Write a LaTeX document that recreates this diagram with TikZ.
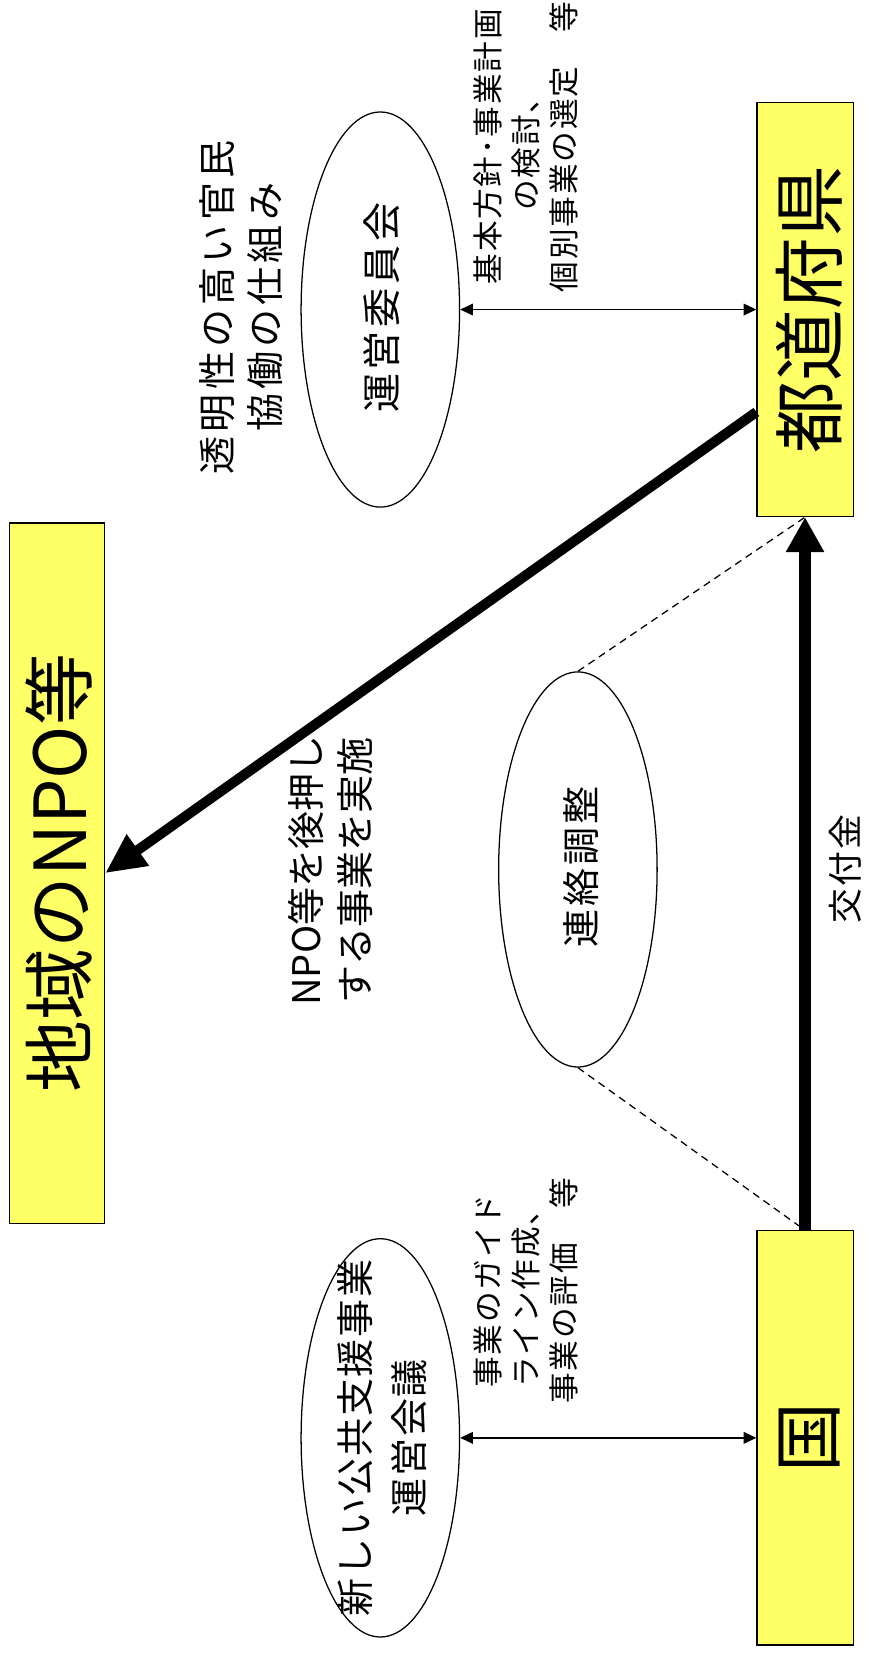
\documentclass[tikz,border=0pt]{standalone}
\usepackage{fontspec}
\setmainfont{Noto Sans CJK JP}
\usetikzlibrary{shapes.geometric,arrows.meta}
\definecolor{boxyellow}{RGB}{255,255,102}
\newcommand{\fs}[2]{\fontsize{#1}{#2}\selectfont}
\newcommand{\ls}[1]{\addfontfeatures{LetterSpace=#1}}
\tikzset{
  ybox/.style={draw=black, line width=1.1pt, fill=boxyellow, minimum width=91pt, minimum height=392pt, inner sep=0pt},
  ell/.style={ellipse, draw=black, line width=1.2pt, minimum width=150pt, minimum height=374pt, inner sep=0pt},
  rtext/.style={rotate=90, align=center, inner sep=0pt},
  thinarrow/.style={{Triangle[width=11pt,length=12pt]}-{Triangle[width=11pt,length=12pt]}, line width=1.3pt},
  dashline/.style={line width=1.2pt, dash pattern=on 7pt off 5pt},
}
\begin{document}
\begin{tikzpicture}[x=1pt,y=-1pt]
\useasboundingbox (0,0) rectangle (823.5,1567.5);
% boxes
\node[ybox] (pref) at (762,293) {};
\node[ybox] (kuni) at (762,1361) {};
\node[ybox, minimum height=663pt, minimum width=90pt] (npo) at (54,826.5) {};
\node[rtext, font=\fs{68}{72}] at ([xshift=4pt]pref.center) {都道府県};
\node[rtext, font=\fs{66}{70}] at ([xshift=4pt]kuni.center) {国};
\node[rtext, font=\fs{68}{72}] at ([xshift=2pt]npo.center) {地域のNPO等};
% ellipses
\node[ell] (e1) at (360,293) {};
\node[ell] (e2) at (547,823) {};
\node[ell, minimum height=377pt] (e3) at (360,1361) {};
\node[rtext, font=\fs{37}{40}\ls{10}] at ([xshift=1pt,yshift=2pt]e1.center) {運営委員会};
\node[rtext, font=\fs{36}{40}\ls{8}] at ([xshift=3pt,yshift=2pt]e2.center) {連絡調整};
\node[rtext, font=\fs{36}{51}\ls{5}] at ([xshift=2pt]e3.center) {新しい公共支援事業\\運営会議};
% thin double arrows
\draw[thinarrow] (e1.east) -- (e1.east -| pref.west);
\draw[thinarrow] (e3.east) -- (e3.east -| kuni.west);
% dashed lines
\draw[dashline] (e2.north) -- (pref.south);
\draw[dashline] (e2.south) -- (kuni.north);
% thick arrows
\draw[line width=10.7pt, -{Triangle[width=34pt,length=33pt]}] (kuni.north) -- (pref.south);
\coordinate (pstart) at ([yshift=-97pt]pref.west);
\coordinate (nend) at (npo.east);
\draw[line width=9.5pt, -{Triangle[width=34pt,length=38pt]}] (pstart) -- (nend);
% labels
\node[rtext, font=\fs{29}{36}\ls{6}] (t1) at (498,139) {基本方針･事業計画\\の検討、\\個別事業の選定　等};
\node[rtext, font=\fs{29}{36}\ls{6}] (t2) at (498,1222) {事業のガイド\\ライン作成、\\事業の評価　等};
\node[rtext, font=\fs{36}{45}\ls{11}] (t3) at (228,291) {透明性の高い官民\\協働の仕組み};
\node[rtext, font=\fs{36}{46}] (t4) at (313,824) {NPO等を後押し\\する事業を実施};
\node[rtext, font=\fs{33}{36}\ls{6}] (t5) at (800,823) {交付金};
\end{tikzpicture}
\end{document}
